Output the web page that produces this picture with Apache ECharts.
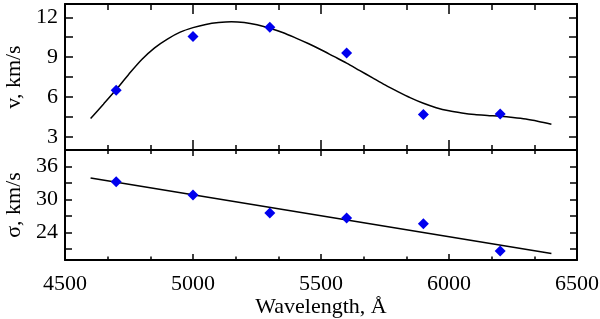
<!DOCTYPE html>
<html>
<head>
<meta charset="utf-8">
<script src="https://cdn.jsdelivr.net/npm/echarts@6/dist/echarts.min.js"></script>
<style>
html,body{margin:0;padding:0;background:#fff;}
#chart{width:600px;height:319px;}
</style>
</head>
<body>
<div id="chart"></div>
<script>
// ---- data ----
const wavelengths = [4700, 5000, 5300, 5600, 5900, 6200];
const velocity = [6.5, 10.55, 11.25, 9.3, 4.67, 4.72];
const sigma = [33.25, 30.8, 27.56, 26.64, 25.6, 20.64];

const fitVX = [4600, 4650, 4700, 4750, 4800, 4850, 4900, 4950, 5000, 5050, 5100, 5150, 5200, 5250, 5300, 5350, 5400, 5450, 5500, 5550, 5600, 5650, 5700, 5750, 5800, 5850, 5900, 5950, 6000, 6050, 6100, 6150, 6200, 6250, 6300, 6350, 6400];
const fitVY = [4.37, 5.45, 6.55, 7.73, 8.82, 9.7, 10.36, 10.88, 11.22, 11.46, 11.6, 11.66, 11.6, 11.43, 11.17, 10.85, 10.45, 10.02, 9.55, 9.05, 8.55, 8.0, 7.45, 6.9, 6.4, 5.93, 5.52, 5.19, 4.95, 4.79, 4.67, 4.6, 4.54, 4.45, 4.33, 4.15, 3.94];

const fitSX = [4600, 6400];
const fitSY = [33.9, 20.2];

const xTickLabels = [4500, 5000, 5500, 6000, 6500];
const vTickLabels = [3, 6, 9, 12];
const vTicks = [3, 4.5, 6, 7.5, 9, 10.5, 12];
const sTickLabels = [24, 30, 36];
const sTicks = [21, 24, 27, 30, 33, 36];

// ---- chart ----
const FONT = 'Liberation Serif';
const FS = 22;
const BLACK = '#000';
const BLUE = '#0000ee';
const pairs = (xs, ys) => xs.map((x, i) => [x, ys[i]]);

function xAxis(gridIndex, position, major, minor, showLabels) {
  const a = {
    type: 'value', gridIndex: gridIndex, position: position,
    min: xTickLabels[0], max: xTickLabels[xTickLabels.length - 1], interval: 500,
    axisLine: {show: true, onZero: false, lineStyle: {color: BLACK, width: 2}},
    axisTick: {show: true, inside: true, length: major, lineStyle: {color: BLACK, width: 1.5}},
    minorTick: {show: true, splitNumber: 3, length: minor, lineStyle: {color: BLACK, width: 1.5}},
    splitLine: {show: false},
    minorSplitLine: {show: false},
    axisLabel: {show: showLabels, color: BLACK, fontFamily: FONT, fontSize: FS, margin: 13,
                formatter: v => String(v)}
  };
  if (showLabels) {
    a.name = 'Wavelength, Å';
    a.nameLocation = 'middle';
    a.nameGap = 33;
    a.nameTextStyle = {color: BLACK, fontFamily: FONT, fontSize: FS};
  }
  return a;
}

function yAxis(gridIndex, position, min, max, ticks, labels, len, name) {
  const a = {
    type: 'value', gridIndex: gridIndex, position: position, min: min, max: max,
    axisLine: {show: true, onZero: false, lineStyle: {color: BLACK, width: 2}},
    axisTick: {show: true, inside: true, length: len, customValues: ticks, lineStyle: {color: BLACK, width: 1.5}},
    splitLine: {show: false},
    axisLabel: {show: !!name, customValues: labels, color: BLACK, fontFamily: FONT, fontSize: FS, margin: 7,
                formatter: v => String(v)}
  };
  if (name) {
    a.name = name;
    a.nameLocation = 'middle';
    a.nameGap = 40;
    a.nameTextStyle = {color: BLACK, fontFamily: FONT, fontSize: FS};
  }
  return a;
}

const chart = echarts.init(document.getElementById('chart'), null, {renderer: 'canvas'});
chart.setOption({
  animation: false,
  backgroundColor: '#fff',
  grid: [
    {left: 65, right: 23, top: 4, height: 146, containLabel: false, outerBoundsMode: 'none'},
    {left: 65, right: 23, top: 150, height: 110, containLabel: false, outerBoundsMode: 'none'}
  ],
  xAxis: [
    xAxis(0, 'bottom', 10, 5, false),
    xAxis(0, 'top', 10, 6, false),
    xAxis(1, 'bottom', 6, 3.5, true),
    xAxis(1, 'top', 6, 4, false)
  ],
  yAxis: [
    yAxis(0, 'left', 2, 13, vTicks, vTickLabels, 8, 'v, km/s'),
    yAxis(0, 'right', 2, 13, vTicks, vTickLabels, 8, null),
    yAxis(1, 'left', 19, 39, sTicks, sTickLabels, 7, 'σ, km/s'),
    yAxis(1, 'right', 19, 39, sTicks, sTickLabels, 7, null)
  ],
  series: [
    {type: 'line', xAxisIndex: 0, yAxisIndex: 0, data: pairs(fitVX, fitVY), smooth: 0.3,
     showSymbol: false, lineStyle: {color: BLACK, width: 1.5}, z: 2},
    {type: 'scatter', xAxisIndex: 0, yAxisIndex: 0, data: pairs(wavelengths, velocity),
     symbol: 'diamond', symbolSize: 11, itemStyle: {color: BLUE, opacity: 1}, z: 3},
    {type: 'line', xAxisIndex: 2, yAxisIndex: 2, data: pairs(fitSX, fitSY),
     showSymbol: false, lineStyle: {color: BLACK, width: 1.5}, z: 2},
    {type: 'scatter', xAxisIndex: 2, yAxisIndex: 2, data: pairs(wavelengths, sigma),
     symbol: 'diamond', symbolSize: 11, itemStyle: {color: BLUE, opacity: 1}, z: 3}
  ]
});
</script>
</body>
</html>
